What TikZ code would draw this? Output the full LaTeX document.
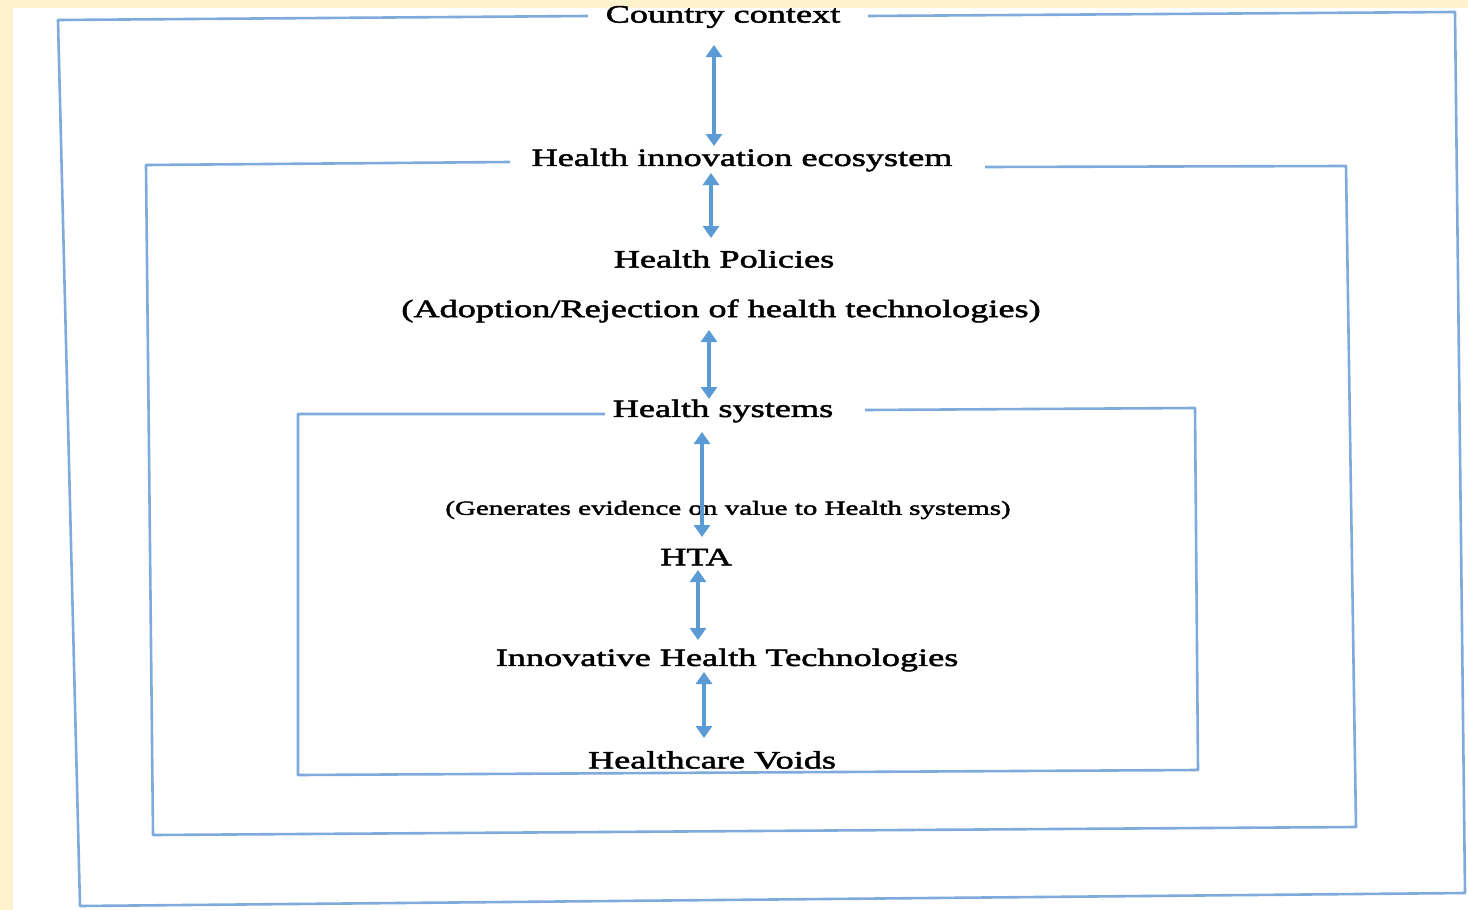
\documentclass[tikz,border=0pt]{standalone}
\usepackage{fontspec}
\setmainfont{Liberation Serif}[FakeStretch=1.45,FakeBold=2]
\usetikzlibrary{arrows.meta}
\definecolor{cream}{HTML}{FFF2CC}
\definecolor{framec}{HTML}{7FAADC}
\definecolor{linkc}{HTML}{5B9BD5}
\tikzset{
  label/.style = {inner sep=0pt, font=\fontsize{12.5}{14}\selectfont},
  note/.style  = {inner sep=0pt, font=\fontsize{10}{12}\selectfont},
  frame/.style = {draw=framec, line width=1.3pt, line join=round},
  link/.style  = {draw=linkc, line width=1.9pt,
                  {Triangle[width=8pt,length=6pt]}-{Triangle[width=8pt,length=6pt]}}
}
\begin{document}
\begin{tikzpicture}[x=0.5pt, y=-0.5pt]

% page and background
\fill[cream] (0,0) rectangle (1468,910);
\fill[white] (13,8) rectangle (1468,910);

% labels
\node[label] (cc)    at (723,17)  {Country context};
\node[label] (hie)   at (742,160) {Health innovation ecosystem};
\node[label] (hp)    at (724,259) {Health Policies};
\node[label] (adopt) at (721,311) {(Adoption/Rejection of health technologies)};
\node[label] (hs)    at (723,411) {Health systems};
\node[note]  (gen)   at (728,510) {(Generates evidence on value to Health systems)};
\node[label] (hta)   at (696,557) {HTA};
\node[label] (iht)   at (727,660) {Innovative Health Technologies};
\node[label] (hv)    at (712,760) {Healthcare Voids};

% frames
\draw[frame] (588,16) -- (58,20) -- (80,906) -- (1465,893) -- (1455,12) -- (868,16);
\draw[frame] (510,162) -- (146,165) -- (153,835) -- (1356,827) -- (1346,166) -- (985,167);
\draw[frame] (605,414) -- (298,414) -- (298,775) -- (1198,770) -- (1195,408) -- (865,410);

% links
\draw[link] ([shift={(-9,28)}]cc.center)   -- ([shift={(-28,-14)}]hie.center);
\draw[link] ([shift={(-31,13)}]hie.center) -- ([shift={(-13,-21)}]hp.center);
\draw[link] ([shift={(-12,19)}]adopt.center) -- ([shift={(-14,-12)}]hs.center);
\draw[link] ([shift={(-21,21)}]hs.center)  -- ([shift={(6,-20)}]hta.center);
\draw[link] ([shift={(2,13)}]hta.center)   -- ([shift={(-29,-20)}]iht.center);
\draw[link] ([shift={(-23,12)}]iht.center) -- ([shift={(-8,-22)}]hv.center);
\end{tikzpicture}
\end{document}
